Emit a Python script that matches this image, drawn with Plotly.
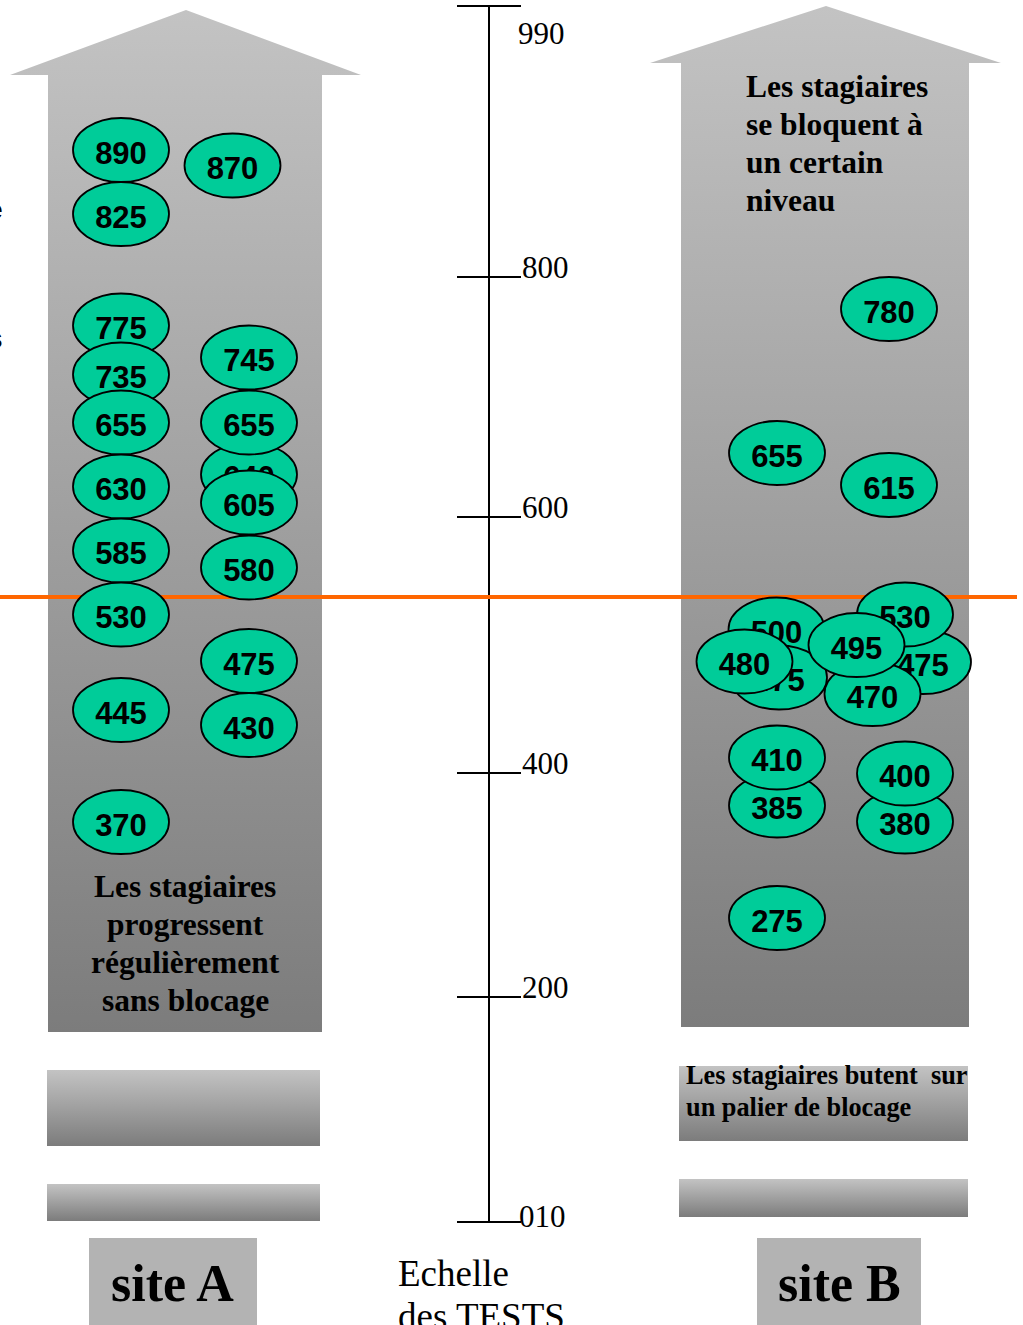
import plotly.graph_objects as go

# ------------------------------------------------------------------
# DATA (values shown in the diagram)
# ------------------------------------------------------------------
site_a_scores = [890, 825, 870, 775, 735, 655, 630, 585, 530, 445, 370,
                 745, 640, 655, 605, 580, 475, 430]
site_b_scores = [780, 655, 615, 500, 475, 480, 475, 530, 470, 495,
                 385, 410, 380, 400, 275]
scale_labels = ["990", "800", "600", "400", "200", "010"]
site_names = ["site A", "site B"]
text_a = ["Les stagiaires", "progressent", "régulièrement", "sans blocage"]
text_b_top = ["Les stagiaires", "se bloquent à", "un certain", "niveau"]
text_b_bottom = ["Les stagiaires butent\u00a0 sur", "un palier de blocage"]
scale_title = ["Echelle", "des TESTS"]

# ------------------------------------------------------------------
# LAYOUT (positions of the drawn elements, in page pixels)
# ------------------------------------------------------------------
W, H = 1023, 1325
pos_a = [(121, 150), (121, 214), (232.5, 165.5), (121, 325.5), (121, 374.5),
         (121, 422.5), (121, 486.5), (121, 550.5), (121, 614.5), (121, 710),
         (121, 822), (249, 357.5), (249, 474.5), (249, 422.5), (249, 502.5),
         (249, 567.5), (249, 661), (249, 725)]
pos_b = [(889, 309), (777, 453), (889, 485), (776.5, 629.5), (779, 677.5),
         (744.5, 661.5), (923, 662), (905, 614.5), (872.5, 694), (856.5, 645),
         (777, 805.5), (777, 757.5), (905, 821.5), (905, 773.5), (777, 918)]
ell_rx, ell_ry = 48, 32

arrow_a = dict(apex=(186, 10), head_y=75, head_x=(10, 361), shaft_x=(48, 322), bottom=1032)
arrow_b = dict(apex=(826, 6), head_y=63, head_x=(650, 1001), shaft_x=(681, 969), bottom=1027)
rects = [(47, 320, 1070, 1146), (47, 320, 1184, 1221),
         (679, 968, 1066, 1141), (679, 968, 1179, 1217)]
site_boxes = [(89, 257, 1238, 1330), (757, 921, 1238, 1330)]
site_text_pos = [(172.5, 1283), (839, 1283)]

scale_x = 489
scale_tick_y = [6, 277, 517, 773, 997, 1222]
scale_label_pos = [(516, 33), (520, 267), (520, 507), (520, 763), (520, 987), (517, 1216)]
orange_y = 597

GRAD = [[0, "#c3c3c3"], [1, "#7c7c7c"]]

fig = go.Figure()


def poly(xs, ys, y_top, y_bot, grad=True, color=None):
    kw = dict(x=xs, y=ys, mode="lines", fill="toself", line=dict(width=0),
              hoverinfo="skip", showlegend=False)
    if grad:
        kw["fillgradient"] = dict(type="vertical", colorscale=GRAD, start=y_top, stop=y_bot)
    else:
        kw["fillcolor"] = color
    fig.add_trace(go.Scatter(**kw))


for ar in (arrow_a, arrow_b):
    (ax, ay) = ar["apex"]
    hx0, hx1 = ar["head_x"]
    sx0, sx1 = ar["shaft_x"]
    hy, by = ar["head_y"], ar["bottom"]
    xs = [sx0, sx0, hx0, ax, hx1, sx1, sx1, sx0]
    ys = [by, hy, hy, ay, hy, hy, by, by]
    poly(xs, ys, ay, by)

for (x0, x1, y0, y1) in rects:
    poly([x0, x0, x1, x1, x0], [y1, y0, y0, y1, y1], y0, y1)

for (x0, x1, y0, y1) in site_boxes:
    poly([x0, x0, x1, x1, x0], [y1, y0, y0, y1, y1], y0, y1, grad=False, color="#b3b3b3")

# test scale
fig.add_trace(go.Scatter(x=[scale_x, scale_x], y=[scale_tick_y[0], scale_tick_y[-1]],
                         mode="lines", line=dict(color="black", width=2),
                         hoverinfo="skip", showlegend=False))
for ty in scale_tick_y:
    fig.add_trace(go.Scatter(x=[457, 521], y=[ty, ty], mode="lines",
                             line=dict(color="black", width=2),
                             hoverinfo="skip", showlegend=False))
for lab, (lx, ly) in zip(scale_labels, scale_label_pos):
    fig.add_annotation(x=lx, y=ly, text=lab, showarrow=False, xanchor="left", yanchor="middle",
                       font=dict(family="Liberation Serif", size=31, color="black"))

# orange threshold line
fig.add_trace(go.Scatter(x=[0, 1017], y=[orange_y, orange_y], mode="lines",
                         line=dict(color="#ff6600", width=4),
                         hoverinfo="skip", showlegend=False))

# ellipses
for scores, positions in ((site_a_scores, pos_a), (site_b_scores, pos_b)):
    for v, (cx, cy) in zip(scores, positions):
        fig.add_shape(type="circle", xref="x", yref="y",
                      x0=cx - ell_rx, x1=cx + ell_rx, y0=cy - ell_ry, y1=cy + ell_ry,
                      fillcolor="#00cc99", line=dict(color="black", width=1.8),
                      layer="above",
                      label=dict(text=str(v),
                                 font=dict(family="Liberation Sans", size=31,
                                           color="black", weight="bold")))

# texts
for i, t in enumerate(text_a):
    fig.add_annotation(x=185, y=886 + 38 * i, text=t, showarrow=False,
                       xanchor="center", yanchor="middle",
                       font=dict(family="Liberation Serif", size=31.5, color="black", weight="bold"))
for i, t in enumerate(text_b_top):
    fig.add_annotation(x=744, y=86 + 38.3 * i, text=t, showarrow=False,
                       xanchor="left", yanchor="middle",
                       font=dict(family="Liberation Serif", size=31.5, color="black", weight="bold"))
for i, t in enumerate(text_b_bottom):
    fig.add_annotation(x=684, y=1075 + 32 * i, text=t, showarrow=False,
                       xanchor="left", yanchor="middle",
                       font=dict(family="Liberation Serif", size=26.3, color="black", weight="bold"))
for name, (tx, ty) in zip(site_names, site_text_pos):
    fig.add_annotation(x=tx, y=ty, text=name, showarrow=False,
                       xanchor="center", yanchor="middle",
                       font=dict(family="Liberation Serif", size=52, color="black", weight="bold"))
for i, t in enumerate(scale_title):
    fig.add_annotation(x=396, y=1273 + 43 * i, text=t, showarrow=False,
                       xanchor="left", yanchor="middle",
                       font=dict(family="Liberation Serif", size=37, color="black"))

# fragments of text cut at the left page edge (as in the reference)
for t, fy in (("e", 209), ("s", 338)):
    fig.add_annotation(x=5, y=fy, text=t, showarrow=False, xanchor="right", yanchor="middle",
                       font=dict(family="Liberation Sans", size=28, color="black", weight="bold"))

fig.update_layout(
    width=W, height=H, margin=dict(l=0, r=0, t=0, b=0, pad=0),
    paper_bgcolor="white", plot_bgcolor="white", showlegend=False,
    xaxis=dict(range=[0, W], visible=False, fixedrange=True),
    yaxis=dict(range=[H, 0], visible=False, fixedrange=True),
)

fig.write_html("out.html", config={"displayModeBar": False},
               post_script="document.body.style.margin='0px';")
